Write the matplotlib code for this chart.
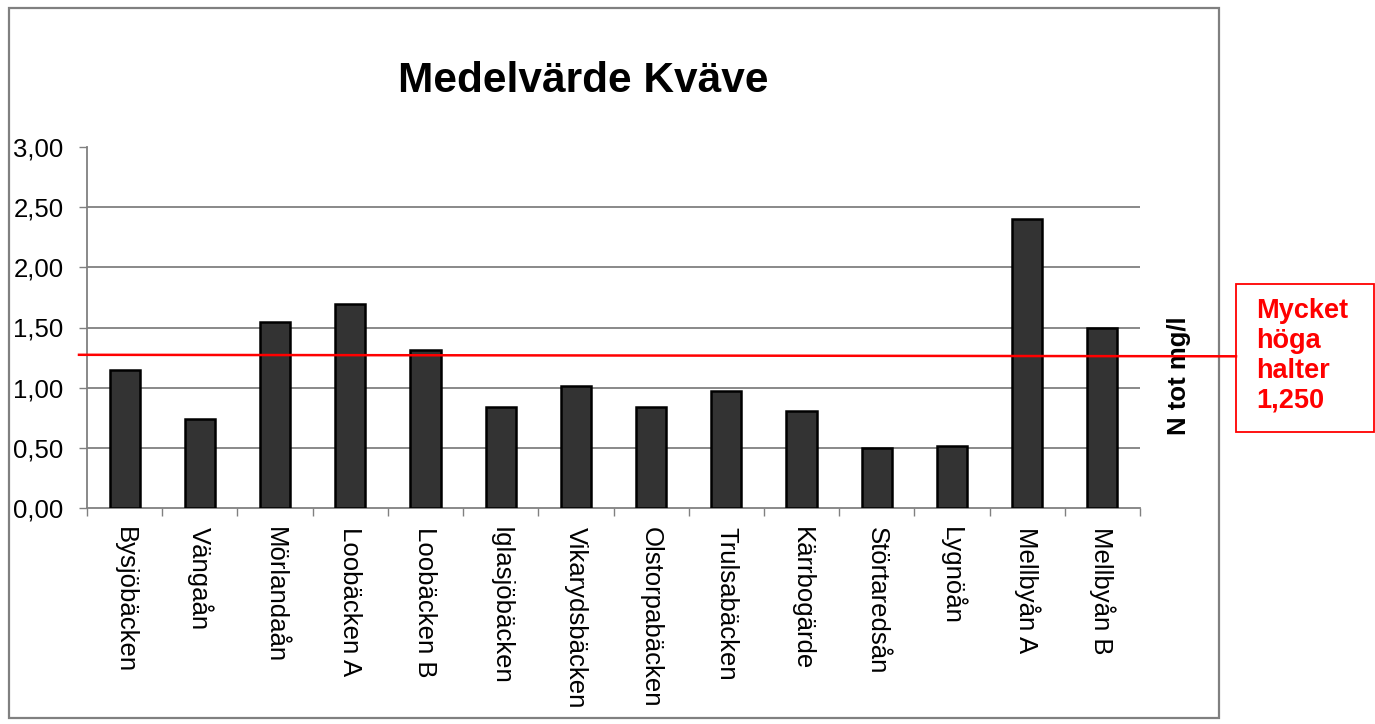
import matplotlib
matplotlib.use("Agg")
import matplotlib.pyplot as plt
from matplotlib.lines import Line2D
from matplotlib.patches import Rectangle
from matplotlib.ticker import FixedLocator

plt.rcParams['font.family'] = ['Liberation Sans', 'DejaVu Sans']

categories = ["Bysjöbäcken", "Vängaån", "Mörlandaån", "Loobäcken A", "Loobäcken B",
              "Iglasjöbäcken", "Vikarydsbäcken", "Olstorpabäcken", "Trulsabäcken",
              "Kärrbogärde", "Störtaredsån", "Lygnöån", "Mellbyån A", "Mellbyån B"]
values = [1.15, 0.74, 1.545, 1.695, 1.31, 0.835, 1.01, 0.835, 0.975, 0.805,
          0.495, 0.51, 2.40, 1.495]
yticks = [0.0, 0.5, 1.0, 1.5, 2.0, 2.5, 3.0]
ytick_labels = ["0,00", "0,50", "1,00", "1,50", "2,00", "2,50", "3,00"]
title = "Medelvärde Kväve"
ylabel = "N tot mg/l"
note = "Mycket\nhöga\nhalter\n1,250"

W, H = 1375, 724
fig = plt.figure(figsize=(W / 100, H / 100), dpi=100)
fig.patch.set_facecolor("white")

def fx(px):
    return px / W

def fy(py):
    return 1 - py / H

ax = fig.add_axes([fx(87), fy(507.7), fx(1140) - fx(87), fy(147.3) - fy(507.7)])
x = list(range(len(categories)))
ax.bar(x, values, width=0.4, color="#333333", edgecolor="black", linewidth=1.8, zorder=3)
ax.set_xlim(-0.5, len(categories) - 0.5)
ax.set_ylim(0, 3)

ax.set_yticks(yticks)
ax.set_yticklabels(ytick_labels, fontsize=18.5)
ax.tick_params(axis="y", direction="out", length=6, width=1, color="#808080", pad=11)
for yv in yticks[1:-1]:
    ax.axhline(yv, color="#808080", linewidth=1.3, zorder=1)

ax.xaxis.set_major_locator(FixedLocator([i - 0.5 for i in range(len(categories) + 1)]))
ax.xaxis.set_major_formatter(plt.NullFormatter())
ax.xaxis.set_minor_locator(FixedLocator(x))
ax.set_xticklabels(categories, minor=True, rotation=270, fontsize=18.5, ha="center", va="top")
ax.tick_params(axis="x", which="major", direction="out", length=6, width=1, color="#808080")
ax.tick_params(axis="x", which="minor", length=0, pad=14)

for s in ["top", "right"]:
    ax.spines[s].set_visible(False)
for s in ["left", "bottom"]:
    ax.spines[s].set_color("#808080")
    ax.spines[s].set_linewidth(1.3)

# outer frame
fig.patches.append(Rectangle((fx(9), fy(718)), fx(1219) - fx(9), fy(8) - fy(718),
                             transform=fig.transFigure, fill=False, edgecolor="#808080",
                             linewidth=1.6, zorder=0))

fig.text(fx(583), fy(81), title, fontsize=30.5, fontweight="bold", ha="center", va="center")
fig.text(fx(1179), fy(376), ylabel, fontsize=18.5, fontweight="bold", rotation=90,
         ha="center", va="center")

# red threshold line
fig.add_artist(Line2D([fx(79), fx(1236)], [fy(354.8), fy(356.3)], color="red",
                      linewidth=1.8, transform=fig.transFigure, zorder=5))

# red note box
fig.patches.append(Rectangle((fx(1236), fy(432)), fx(1374) - fx(1236), fy(284) - fy(432),
                             transform=fig.transFigure, fill=False, edgecolor="red",
                             linewidth=1.3, zorder=5))
fig.text(fx(1256), fy(298), note, fontsize=19.5, fontweight="bold", color="red",
         ha="left", va="top", linespacing=1.19)

fig.savefig("out.png", dpi=100, facecolor="white")
